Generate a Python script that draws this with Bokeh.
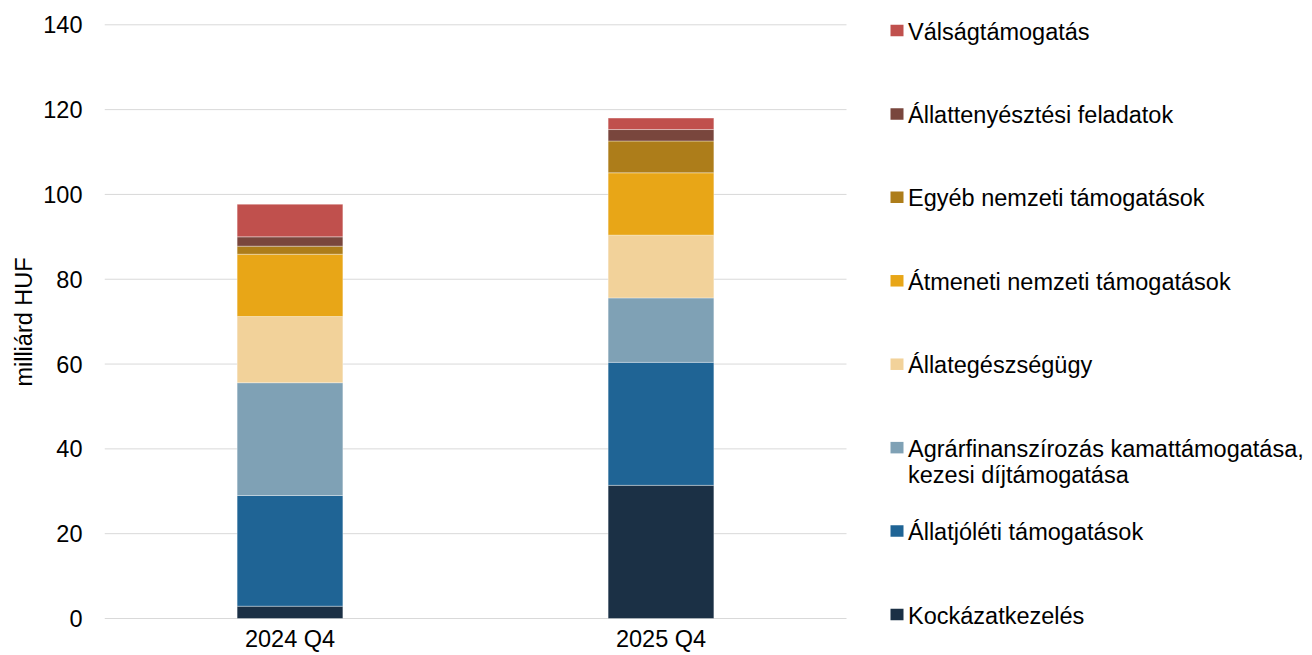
from bokeh.plotting import figure
from bokeh.models import Range1d, FixedTicker, ColumnDataSource, Label
from bokeh.embed import file_html
from bokeh.resources import INLINE

# ---- data ----
categories = ["2024 Q4", "2025 Q4"]
kockazatkezeles = [2.9, 31.4]
allatjoleti = [26.1, 29.0]
agrarfinanszirozas = [26.6, 15.2]
allategeszsegugy = [15.6, 14.8]
atmeneti = [14.7, 14.7]
egyeb = [1.9, 7.5]
allattenyesztesi = [2.2, 2.7]
valsag = [7.7, 2.7]

series_names = [
    "Kockázatkezelés",
    "Állatjóléti támogatások",
    "Agrárfinanszírozás kamattámogatása,\nkezesi díjtámogatása",
    "Állategészségügy",
    "Átmeneti nemzeti támogatások",
    "Egyéb nemzeti támogatások",
    "Állattenyésztési feladatok",
    "Válságtámogatás",
]
series_values = [kockazatkezeles, allatjoleti, agrarfinanszirozas, allategeszsegugy,
                 atmeneti, egyeb, allattenyesztesi, valsag]
colors = ["#1B3045", "#1F6495", "#7FA1B5", "#F2D29A", "#E8A617", "#AD7D1A", "#79463D", "#C0504D"]
y_ticks = [0, 20, 40, 60, 80, 100, 120, 140]

FONT = "Liberation Sans"
FS = "23.5px"
W, H = 1312, 655
LEFT = 104
ZERO_PX, TOP_PX = 618.0, 24.3   # pixel rows of the 0 and 140 gridlines
FRAME_T, FRAME_B = 18, 625      # frame top / bottom (page px)
BOTTOM = H - FRAME_B
CAT_W_PX = 371.0                # pixel width of one category slot

ppu = (ZERO_PX - TOP_PX) / y_ticks[-1]
y_min = -(FRAME_B - ZERO_PX) / ppu
y_max = y_ticks[-1] + (TOP_PX - FRAME_T) / ppu
x_max = (W - LEFT) / CAT_W_PX

xs = [i + 0.5 for i in range(len(categories))]
keys = [f"s{i}" for i in range(len(series_values))]
data = {"x": xs}
for k, v in zip(keys, series_values):
    data[k] = v
src = ColumnDataSource(data)

p = figure(x_range=Range1d(0, x_max), y_range=Range1d(y_min, y_max),
           width=W, height=H, output_backend="svg", toolbar_location=None,
           min_border_left=LEFT, min_border_right=0, min_border_top=FRAME_T,
           min_border_bottom=BOTTOM)
p.extra_x_ranges = {"px": Range1d(LEFT, W)}
p.extra_y_ranges = {"py": Range1d(FRAME_B, FRAME_T)}

# grid lines only across the category area
p.segment(x0=0, x1=len(categories), y0=y_ticks, y1=y_ticks, line_color="#D9D9D9", line_width=1)
p.vbar_stack(keys, x="x", width=0.285, color=colors, source=src,
             line_color="white", line_alpha=0.35, line_width=1)

p.outline_line_color = None
p.grid.visible = False
p.yaxis.ticker = FixedTicker(ticks=y_ticks)
p.xaxis.ticker = FixedTicker(ticks=xs)
p.xaxis.major_label_overrides = {x: c for x, c in zip(xs, categories)}
for ax in (p.xaxis[0], p.yaxis[0]):
    ax.axis_line_color = None
    ax.major_tick_line_color = None
    ax.minor_tick_line_color = None
    ax.major_tick_out = 0
    ax.minor_tick_out = 0
    ax.major_tick_in = 0
    ax.minor_tick_in = 0
    ax.major_label_text_font = FONT
    ax.major_label_text_font_size = FS
    ax.major_label_text_color = "#000000"
p.xaxis.axis_label = None
p.xaxis.axis_label_standoff = 0
p.xaxis.major_label_standoff = 0
p.yaxis.major_label_standoff = 22
p.yaxis.axis_label = "milliárd HUF"
p.yaxis.axis_label_text_font = FONT
p.yaxis.axis_label_text_font_size = FS
p.yaxis.axis_label_text_font_style = "normal"
p.yaxis.axis_label_text_color = "#000000"
p.yaxis.axis_label_standoff = 3

# ---- legend, in page-pixel ranges ----
top_row, bottom_row, line_gap = 30.0, 614.0, 26.0
step = (bottom_row - top_row) / (len(series_names) - 1)
sq_x, txt_x = 896.5, 907.5
order = list(range(len(series_names)))[::-1]  # top to bottom
sq = dict(x=[], y=[], c=[])
for r, i in enumerate(order):
    yc = top_row + r * step
    sq["x"].append(sq_x); sq["y"].append(yc); sq["c"].append(colors[i])
    for j, line in enumerate(series_names[i].split("\n")):
        p.add_layout(Label(x=txt_x, y=yc + 1 + j * line_gap, text=line,
                           x_range_name="px", y_range_name="py",
                           text_font=FONT, text_font_size=FS, text_color="#000000",
                           text_baseline="middle", text_align="left"))
p.rect(x="x", y="y", width=13, height=11.5, fill_color="c", line_color=None,
       source=ColumnDataSource(sq), x_range_name="px", y_range_name="py")

open("out.html", "w").write(file_html(p, INLINE))
